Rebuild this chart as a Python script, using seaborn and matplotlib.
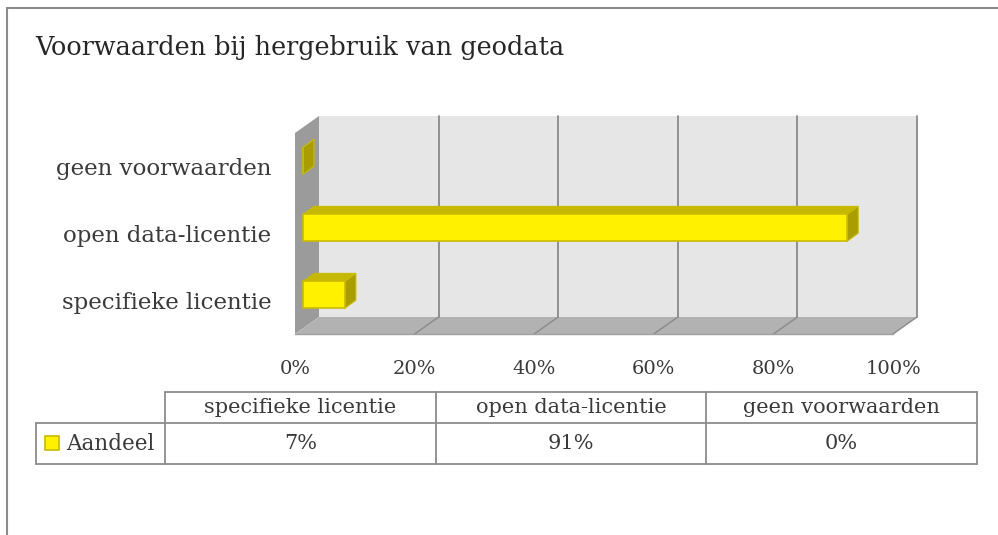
import numpy as np
import pandas as pd
import matplotlib
matplotlib.use("Agg")
import matplotlib.pyplot as plt
import seaborn as sns
from matplotlib.patches import Polygon, Rectangle
from matplotlib.lines import Line2D
from matplotlib.transforms import IdentityTransform, ScaledTranslation

# ---- data ----
title = "Voorwaarden bij hergebruik van geodata"
categories = ["specifieke licentie", "open data-licentie", "geen voorwaarden"]
values = [7, 91, 0]
series_name = "Aandeel"
xticks = [0, 20, 40, 60, 80, 100]

# ---- style ----
sns.set_theme(style="white")
FONT = ["DejaVu Serif"]
plt.rcParams["font.family"] = FONT
TXT = "#3a3a3a"
YEL = "#fff100"
YEL_EDGE = "#c9bb00"
YEL_TOP = "#c6b800"
YEL_SIDE = "#a99d00"
BACK = "#e6e6e6"
SIDE = "#9b9b9b"
FLOOR = "#b2b2b2"
GRID = "#8a8a8a"

W, H = 998, 535
DPI = 100
fig = plt.figure(figsize=(W / DPI, H / DPI), dpi=DPI)
fig.patch.set_facecolor("white")

# front plane of the 3D plot
x0p, x1p, y0p, y1p = 295, 893, 133, 334
ax = fig.add_axes([x0p / W, 1 - y1p / H, (x1p - x0p) / W, (y1p - y0p) / H])
ax.patch.set_alpha(0)

df = pd.DataFrame({"cat": categories, "val": values})
order = categories[::-1]
sns.barplot(data=df, x="val", y="cat", order=order, orient="h", color=YEL,
            saturation=1, width=0.4, edgecolor=YEL_EDGE, linewidth=1.2, ax=ax)
ax.set_xlim(0, 100)
ax.set_ylim(len(order) - 0.5, -0.5)
for s in ax.spines.values():
    s.set_visible(False)
ax.set_xlabel("")
ax.set_ylabel("")
ax.set_xticks(xticks)
ax.set_xticklabels([f"{t}%" for t in xticks], fontsize=14, color=TXT)
ax.tick_params(axis="x", length=0, pad=19)
ax.tick_params(axis="y", length=0, pad=17, labelsize=16.5, labelcolor=TXT)
ax.grid(False)

D = np.array([24.0, 17.0])  # depth of plot box (display px)
FD = np.array([8.0, 5.7])   # bar front face depth offset
BD = np.array([11.0, 8.0])  # bar depth

T = ax.transData
ID = IdentityTransform()
ybot, ytop = len(order) - 0.5, -0.5


def P(x, y):
    return T.transform((x, y))


def addpoly(pts, fc, z, ec="none", lw=0):
    pg = Polygon(np.array(pts), closed=True, facecolor=fc, edgecolor=ec, lw=lw,
                 transform=ID, clip_on=False, zorder=z)
    ax.add_patch(pg)


# back wall
addpoly([P(0, ybot) + D, P(100, ybot) + D, P(100, ytop) + D, P(0, ytop) + D], BACK, 0.1)
# side wall
addpoly([P(0, ybot), P(0, ytop), P(0, ytop) + D, P(0, ybot) + D], SIDE, 0.2)
# floor
addpoly([P(0, ybot), P(100, ybot), P(100, ybot) + D, P(0, ybot) + D], FLOOR, 0.2)

# gridlines on back wall and floor
for v in xticks[1:]:
    a, b = P(v, ybot) + D, P(v, ytop) + D
    ax.add_line(Line2D([a[0], b[0]], [a[1], b[1]], color=GRID, lw=1.3,
                       transform=ID, clip_on=False, zorder=0.3))
    f = P(v, ybot)
    ax.add_line(Line2D([f[0], a[0]], [f[1], a[1]], color=GRID, lw=1.0,
                       transform=ID, clip_on=False, zorder=0.3))
# floor front edge
a, b = P(0, ybot), P(100, ybot)
ax.add_line(Line2D([a[0], b[0]], [a[1], b[1]], color="#a0a0a0", lw=1.0,
                   transform=ID, clip_on=False, zorder=0.3))

# bars: shift front face and add top/side faces
shift = ScaledTranslation(FD[0] / DPI, FD[1] / DPI, fig.dpi_scale_trans)
for p in list(ax.patches):
    if not isinstance(p, Rectangle) or p.get_transform() is ID:
        continue
    xr, yr, w, h = p.get_x(), p.get_y(), p.get_width(), p.get_height()
    p.set_transform(T + shift)
    p.set_zorder(3)
    c = T.transform([(xr, yr), (xr + w, yr), (xr + w, yr + h), (xr, yr + h)]) + FD
    L, R = c[:, 0].min(), c[:, 0].max()
    B, U = c[:, 1].min(), c[:, 1].max()
    addpoly([(L, U), (R, U), (R + BD[0], U + BD[1]), (L + BD[0], U + BD[1])], YEL_TOP, 2.5,
            ec=YEL_EDGE, lw=0.8)
    addpoly([(R, B), (R, U), (R + BD[0], U + BD[1]), (R + BD[0], B + BD[1])], YEL_SIDE, 2.5,
            ec=YEL_EDGE, lw=0.8)

# ---- overlay in pixel coordinates: frame, title, data table ----
ov = fig.add_axes([0, 0, 1, 1], zorder=-1)
ov.set_xlim(0, W)
ov.set_ylim(H, 0)
ov.axis("off")
FR = "#8c8c8c"
ov.plot([7, 7], [8, H], color=FR, lw=1.5)
ov.plot([7, W], [8, 8], color=FR, lw=1.5)

ov.text(35, 48, title, fontsize=18.4, color="#262626", va="center", ha="left")

# data table
tl, tr = 165, 977
ty0, ty1, ty2 = 392, 423, 464
lx = 36
n = len(categories)
cols = np.linspace(tl, tr, n + 1)
TC = "#8c8c8c"
lw = 1.3
ov.plot([tl, tr], [ty0, ty0], color=TC, lw=lw)
ov.plot([lx, tr], [ty1, ty1], color=TC, lw=lw)
ov.plot([lx, tr], [ty2, ty2], color=TC, lw=lw)
ov.plot([lx, lx], [ty1, ty2], color=TC, lw=lw)
for cx in cols:
    ov.plot([cx, cx], [ty0, ty2], color=TC, lw=lw)
for i, (cat, v) in enumerate(zip(categories, values)):
    cxm = (cols[i] + cols[i + 1]) / 2
    ov.text(cxm, (ty0 + ty1) / 2, cat, fontsize=15, color=TXT, ha="center", va="center")
    ov.text(cxm, (ty1 + ty2) / 2, f"{v}%", fontsize=15, color=TXT, ha="center", va="center")
ov.add_patch(Rectangle((45, 436), 14, 14, facecolor=YEL, edgecolor=YEL_EDGE, lw=1.2))
ov.text(66, (ty1 + ty2) / 2, series_name, fontsize=15.5, color=TXT, ha="left", va="center")

fig.savefig("out.png", dpi=DPI, facecolor="white")
